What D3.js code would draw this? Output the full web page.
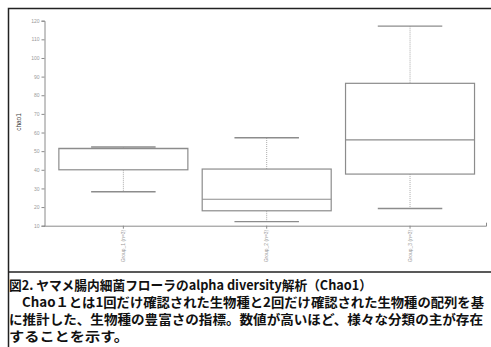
<!DOCTYPE html>
<html>
<head>
<meta charset="utf-8">
<script src="https://cdn.jsdelivr.net/npm/d3@7/dist/d3.min.js"></script>
<style>
  html, body { margin: 0; padding: 0; background: #fff; }
  svg { display: block; }
</style>
</head>
<body>
<svg id="chart" width="491" height="347"></svg>
<script>
// Chao1 box plot per group: whisker min, Q1, median, Q3, whisker max
const groups = ["Group_1 (n=3)", "Group_2 (n=3)", "Group_3 (n=3)"];
const mins    = [28.2, 12.2, 19.2];
const q1s     = [40.0, 18.0, 37.7];
const medians = [51.4, 24.2, 56.0];
const q3s     = [51.5, 40.4, 86.4];
const maxs    = [52.2, 57.2, 117.1];
const yTicks  = [10, 20, 30, 40, 50, 60, 70, 80, 90, 100, 110, 120];
const yLabel  = "chao1";
const captionLines = [
  "図2. ヤマメ腸内細菌フローラのalpha diversity解析（Chao1）",
  "Chao１とは1回だけ確認された生物種と2回だけ確認された生物種の配列を基",
  "に推計した、生物種の豊富さの指標。数値が高いほど、様々な分類の主が存在",
  "することを示す。"
];

const svg = d3.select("#chart");

// outer frame and caption divider
svg.append("rect")
  .attr("x", 8.5).attr("y", 8.5).attr("width", 490).attr("height", 350)
  .attr("fill", "none").attr("stroke", "#222").attr("stroke-width", 1.5);
svg.append("line")
  .attr("x1", 8).attr("x2", 491).attr("y1", 272).attr("y2", 272)
  .attr("stroke", "#222").attr("stroke-width", 1.5);

const x = d3.scaleBand().domain(groups).range([51.7, 481.7]);
const y = d3.scaleLinear().domain([10, 120]).range([225.7, 20.7]);

const axisColor = "#8a8a8a";
const labelColor = "#9a9a9a";

// y axis
const yAxis = svg.append("g")
  .attr("transform", "translate(44.5,0)")
  .call(d3.axisLeft(y).tickValues(yTicks).tickSize(3).tickPadding(2));
yAxis.select(".domain").attr("stroke", axisColor);
yAxis.selectAll(".tick line").attr("stroke", axisColor);
yAxis.selectAll(".tick text")
  .attr("fill", labelColor).attr("font-size", 5)
  .attr("font-family", "Liberation Sans, Arial, sans-serif");

// x axis
const xAxis = svg.append("g")
  .attr("transform", "translate(0,225.7)")
  .call(d3.axisBottom(x).tickSize(3).tickSizeOuter(0));
xAxis.select(".domain").attr("stroke", axisColor).attr("d", "M44,0.5H486.5V-3");
xAxis.selectAll(".tick line").attr("stroke", axisColor);
xAxis.selectAll(".tick text")
  .attr("fill", labelColor).attr("font-size", 5)
  .attr("font-family", "Liberation Sans, Arial, sans-serif")
  .attr("transform", "rotate(-90)")
  .attr("text-anchor", "end")
  .attr("x", -4).attr("y", 0).attr("dy", "0.35em");

// y axis title
svg.append("text")
  .attr("transform", "translate(21,122) rotate(-90)")
  .attr("text-anchor", "middle")
  .attr("font-size", 6.5)
  .attr("font-family", "Liberation Sans, Arial, sans-serif")
  .attr("fill", "#444")
  .text(yLabel);

// boxes
const boxW = x.bandwidth() * 0.9;
const capW = boxW / 2;
const boxes = svg.append("g");
groups.forEach((g, i) => {
  const cx = x(g) + x.bandwidth() / 2;
  const gg = boxes.append("g");
  // whiskers (dotted)
  gg.append("line")
    .attr("x1", cx).attr("x2", cx).attr("y1", y(q3s[i])).attr("y2", y(maxs[i]))
    .attr("stroke", "#aaa").attr("stroke-width", 1).attr("stroke-dasharray", "1,1");
  gg.append("line")
    .attr("x1", cx).attr("x2", cx).attr("y1", y(q1s[i])).attr("y2", y(mins[i]))
    .attr("stroke", "#aaa").attr("stroke-width", 1).attr("stroke-dasharray", "1,1");
  // box
  gg.append("rect")
    .attr("x", cx - boxW / 2).attr("y", y(q3s[i]))
    .attr("width", boxW).attr("height", y(q1s[i]) - y(q3s[i]))
    .attr("fill", "#fff").attr("stroke", "#8c8c8c").attr("stroke-width", 1.2);
  // median
  gg.append("line")
    .attr("x1", cx - boxW / 2).attr("x2", cx + boxW / 2)
    .attr("y1", y(medians[i])).attr("y2", y(medians[i]))
    .attr("stroke", "#8c8c8c").attr("stroke-width", 1.2);
  // caps
  [mins[i], maxs[i]].forEach(v => {
    gg.append("line")
      .attr("x1", cx - capW / 2).attr("x2", cx + capW / 2)
      .attr("y1", y(v)).attr("y2", y(v))
      .attr("stroke", "#8c8c8c").attr("stroke-width", 1.4);
  });
});

// caption
const capFont = "'Noto Sans CJK JP', 'Noto Sans', sans-serif";
const capPos = [
  { x: 9, y: 290, w: 363 },
  { x: 22, y: 307, w: 462 },
  { x: 9, y: 324, w: 474 },
  { x: 9, y: 341, w: 120 }
];
captionLines.forEach((t, i) => {
  svg.append("text")
    .attr("x", capPos[i].x).attr("y", capPos[i].y)
    .attr("font-family", capFont)
    .attr("font-weight", "bold")
    .attr("font-size", 13)
    .attr("fill", "#111")
    .attr("textLength", capPos[i].w)
    .attr("lengthAdjust", "spacingAndGlyphs")
    .text(t);
});
</script>
</body>
</html>
